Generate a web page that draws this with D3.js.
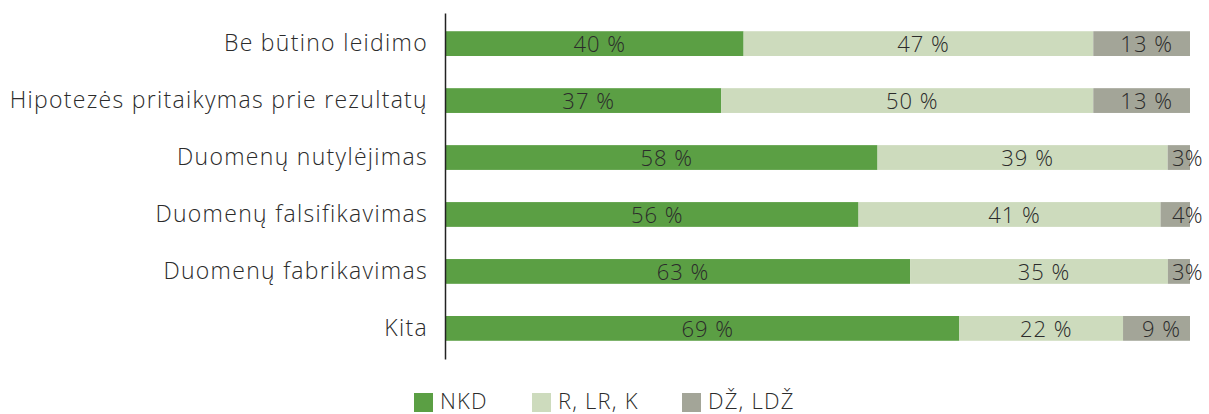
<!DOCTYPE html>
<html>
<head>
<meta charset="utf-8">
<script src="https://cdn.jsdelivr.net/npm/d3@7"></script>
<style>
  body { margin: 0; background: #fff; }
  text { font-family: "Open Sans", Lato, sans-serif; font-weight: 300; fill: #2b2b2b; }
</style>
</head>
<body>
<div id="chart"></div>
<script>
// data
var categories = ['Be būtino leidimo', 'Hipotezės pritaikymas prie rezultatų', 'Duomenų nutylėjimas',
  'Duomenų falsifikavimas', 'Duomenų fabrikavimas', 'Kita']
var seriesNames = ['NKD', 'R, LR, K', 'DŽ, LDŽ']
var nkd = [40, 37, 58, 56, 63, 69]
var rlrk = [47, 50, 39, 41, 35, 22]
var dz = [13, 13, 3, 4, 3, 9]
var colors = ['#5b9f44', '#cddbbd', '#a3a598']

// size
var width = 1209
var height = 414
var margin = { top: 13, left: 445, right: 19, bottom: 55 }

var svg = d3.select('#chart')
  .append('svg')
  .attr('width', width)
  .attr('height', height)

var rows = categories.map(function (c, i) {
  return { cat: c, 'NKD': nkd[i], 'R, LR, K': rlrk[i], 'DŽ, LDŽ': dz[i] }
})

var stacked = d3.stack().keys(seriesNames).offset(d3.stackOffsetExpand)(rows)

var x = d3.scaleLinear().domain([0, 1]).range([margin.left + 1, width - margin.right])
var y = d3.scaleBand().domain(categories).range([margin.top, height - margin.bottom]).paddingInner(0.565).paddingOuter(0.32)

// bars
var layer = svg.selectAll('.layer')
  .data(stacked)
  .enter()
  .append('g')
  .attr('class', 'layer')
  .attr('fill', function (d, i) { return colors[i] })

layer.selectAll('rect')
  .data(function (d) { return d })
  .enter()
  .append('rect')
  .attr('x', function (d) { return x(d[0]) })
  .attr('y', function (d) { return y(d.data.cat) })
  .attr('width', function (d) { return x(d[1]) - x(d[0]) })
  .attr('height', y.bandwidth())

// value labels
stacked.forEach(function (s) {
  svg.append('g').selectAll('text')
    .data(s)
    .enter()
    .append('text')
    .attr('x', function (d) {
      var v = d.data[s.key]
      return v < 5 ? x(d[1]) - 18 : (x(d[0]) + x(d[1])) / 2 + 5
    })
    .attr('y', function (d) { return y(d.data.cat) + y.bandwidth() / 2 + 1 })
    .attr('dy', '0.35em')
    .attr('text-anchor', function (d) { return d.data[s.key] < 5 ? 'start' : 'middle' })
    .style('font-size', '22px')
    .style('letter-spacing', function (d) { return d.data[s.key] < 5 ? '0.3px' : '1px' })
    .text(function (d) {
      var v = d.data[s.key]
      return v < 5 ? v + '%' : v + ' %'
    })
})

// axis
var yAxis = svg.append('g')
  .attr('transform', 'translate(' + margin.left + ',0)')
  .call(d3.axisLeft(y).tickSize(0).tickPadding(17))
yAxis.select('.domain').attr('stroke', '#222').attr('stroke-width', 1.5)
yAxis.selectAll('.tick text')
  .style('font-size', '23px')
  .style('letter-spacing', '1.3px')
  .style('font-family', '"Open Sans", Lato, sans-serif')
  .style('font-weight', 300)
  .attr('fill', '#2b2b2b')

// legend
var legendX = [414, 532, 682]
var legend = svg.selectAll('.legend')
  .data(seriesNames)
  .enter()
  .append('g')
  .attr('class', 'legend')
  .attr('transform', function (d, i) { return 'translate(' + legendX[i] + ',393)' })
legend.append('rect')
  .attr('width', 19)
  .attr('height', 19)
  .attr('fill', function (d, i) { return colors[i] })
legend.append('text')
  .attr('x', 26)
  .attr('y', 16)
  .style('font-size', '22px')
  .style('letter-spacing', '1.2px')
  .text(function (d) { return d })
</script>
</body>
</html>
